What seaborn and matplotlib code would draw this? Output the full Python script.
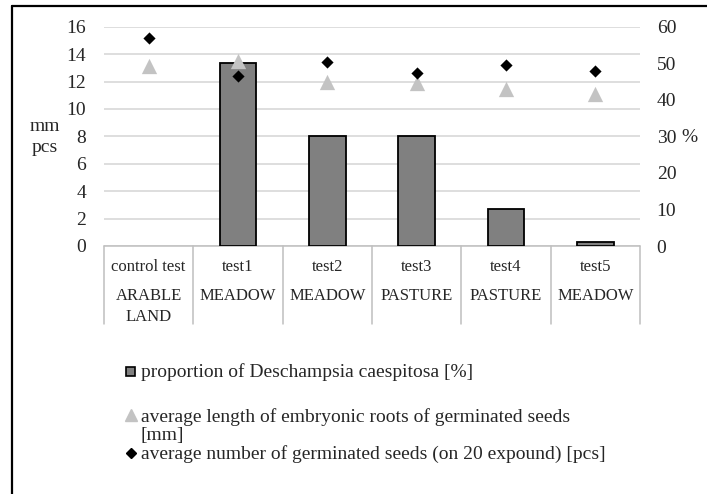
import numpy as np
import matplotlib
matplotlib.use("Agg")
import matplotlib.pyplot as plt
from matplotlib.lines import Line2D
from matplotlib.patches import Rectangle
import seaborn as sns

# Data
tests = ["control test", "test1", "test2", "test3", "test4", "test5"]
land_use = ["ARABLE\nLAND", "MEADOW", "MEADOW", "PASTURE", "PASTURE", "MEADOW"]
proportion = [0, 50, 30, 30, 10, 1]                  # % (right axis)
root_length = [13.1, 13.5, 12.0, 11.9, 11.45, 11.1]  # mm (left axis)
germinated = [15.2, 12.4, 13.4, 12.6, 13.2, 12.8]    # pcs (left axis)

left_ticks = [0, 2, 4, 6, 8, 10, 12, 14, 16]
right_ticks = [0, 10, 20, 30, 40, 50, 60]

label_bar = "proportion of Deschampsia caespitosa [%]"
label_tri = "average length of embryonic roots of germinated seeds\n[mm]"
label_dia = "average number of germinated seeds (on 20 expound) [pcs]"

sns.set_style("white")
plt.rcParams['font.family'] = ['Liberation Serif', 'DejaVu Serif']

W, H = 707, 494
fig = plt.figure(figsize=(W / 100, H / 100), dpi=100)

def fx(px):
    return px / W

def fy(py):
    return 1 - py / H

ax = fig.add_axes([fx(104), fy(246), fx(640) - fx(104), fy(26.7) - fy(246)])
ax_bar = ax.twinx()
ax_pts = ax.twinx()

bar_col = "#808080"
tri_col = "#c3c3c3"
grid_col = "#d4d4d4"

# gridlines on the base axis (left scale)
ax.set_ylim(0, 16)
ax.set_yticks(left_ticks)
ax.yaxis.grid(True, color=grid_col, linewidth=1.1)
ax.tick_params(axis="y", labelsize=14, length=0, pad=13)
for s in ax.spines.values():
    s.set_visible(False)

# bars on the right axis
sns.barplot(x=tests, y=proportion, order=tests, color=bar_col, edgecolor="black",
            linewidth=1.3, width=0.41, saturation=1, ax=ax_bar)
for p in ax_bar.patches:
    if p.get_height() == 0:
        p.set_linewidth(0)
ax_bar.set_ylim(0, 60)
ax_bar.set_yticks(right_ticks)
ax_bar.tick_params(axis="y", labelsize=14, length=0, pad=12)
for s in ax_bar.spines.values():
    s.set_visible(False)

# markers on the left scale, drawn on top
sns.stripplot(x=tests, y=root_length, order=tests, jitter=False, marker="^",
              color=tri_col, size=11, linewidth=0, ax=ax_pts)
sns.stripplot(x=tests, y=germinated, order=tests, jitter=False, marker="D",
              color="black", size=6.2, linewidth=0, ax=ax_pts)
ax_pts.set_ylim(0, 16)
ax_pts.set_yticks([])
for s in ax_pts.spines.values():
    s.set_visible(False)

for a in (ax, ax_bar, ax_pts):
    a.set_xlim(-0.5, len(tests) - 0.5)
    a.set_xticks([])
    a.set_xlabel("")
    a.set_ylabel("")

# horizontal axis line and multi-level category table
ax.axhline(0, color="#bfbfbf", linewidth=1.1, clip_on=False)
trans = ax.get_xaxis_transform()
h = 246 - 26.7
for i in range(len(tests) + 1):
    ax.plot([i - 0.5, i - 0.5], [0, -(324 - 246) / h], color="#bfbfbf",
            linewidth=1.1, transform=trans, clip_on=False)
for i, (t, g) in enumerate(zip(tests, land_use)):
    ax.text(i, -(267 - 246) / h, t, transform=trans, ha="center", va="center",
            fontsize=12)
    ax.text(i, -(288 - 246) / h, g, transform=trans, ha="center", va="top",
            fontsize=12, linespacing=1.45)

# axis titles
fig.text(fx(45), fy(137), "mm\npcs", ha="center", va="center", fontsize=14,
         linespacing=1.25)
fig.text(fx(681), fy(137), "%", ha="left", va="center", fontsize=14)

# legend
fig.add_artist(Rectangle((fx(126), fy(376)), fx(9), 9 / H, facecolor=bar_col,
                         edgecolor="black", linewidth=1.2, transform=fig.transFigure))
fig.text(fx(141), fy(372), label_bar, ha="left", va="center", fontsize=14)
fig.add_artist(Line2D([fx(131)], [fy(415)], marker="^", color=tri_col,
                      markersize=9, linestyle="none", transform=fig.transFigure))
fig.text(fx(141), fy(426), label_tri, ha="left", va="center", fontsize=14,
         linespacing=1.12)
fig.add_artist(Line2D([fx(131)], [fy(453)], marker="D", color="black",
                      markersize=5.5, linestyle="none", transform=fig.transFigure))
fig.text(fx(141), fy(454), label_dia, ha="left", va="center", fontsize=14)

# outer frame
fig.add_artist(Line2D([fx(12), fx(12)], [0, fy(6)], color="black", linewidth=1.6,
                      transform=fig.transFigure))
fig.add_artist(Line2D([fx(12), 1], [fy(6), fy(6)], color="black", linewidth=1.6,
                      transform=fig.transFigure))

fig.savefig("out.png", dpi=100)
